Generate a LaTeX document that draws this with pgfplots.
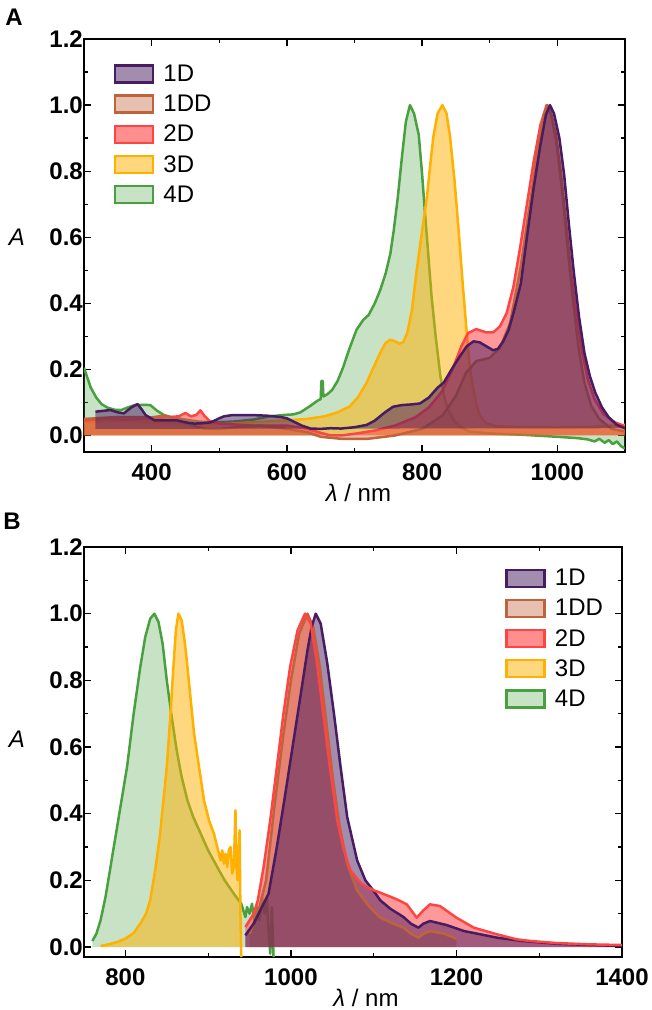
\documentclass[border=0pt]{standalone}
\usepackage{fontspec}
\setmainfont{Liberation Sans}
\usepackage{pgfplots}
\usepackage{pgfplotstable}
\pgfplotsset{compat=1.18}

\definecolor{c1D}{RGB}{72,28,96}
\definecolor{c1DD}{RGB}{192,98,58}
\definecolor{c2D}{RGB}{255,68,68}
\definecolor{c3D}{RGB}{255,176,0}
\definecolor{c4D}{RGB}{72,160,62}

% ---------------- Panel A data ----------------
\pgfplotstableread{
x y
300 0.205
305 0.175
310 0.145
318 0.115
326 0.095
334 0.085
345 0.078
355 0.077
365 0.085
375 0.092
385 0.093
398 0.092
408 0.075
418 0.062
430 0.055
450 0.048
470 0.042
490 0.040
520 0.042
550 0.048
575 0.058
595 0.062
610 0.064
620 0.070
635 0.090
645 0.105
650 0.110
651 0.165
653 0.165
654 0.118
660 0.125
667 0.138
675 0.165
683 0.205
692 0.26
703 0.32
713 0.35
721 0.365
730 0.40
738 0.44
746 0.49
753 0.55
758 0.62
764 0.72
770 0.84
776 0.95
782 1.0
788 0.975
795 0.91
800 0.79
804 0.68
809 0.55
814 0.42
820 0.30
827 0.18
833 0.115
839 0.075
847 0.045
856 0.026
870 0.012
900 0.006
950 0.002
1000 -0.004
1030 -0.008
1045 -0.012
1055 -0.018
1062 -0.010
1070 -0.022
1076 -0.014
1082 -0.026
1088 -0.018
1094 -0.032
1100 -0.040
}\Afour

\pgfplotstableread{
x y
300 0.040
350 0.044
400 0.040
450 0.036
500 0.034
550 0.040
600 0.046
630 0.050
656 0.058
675 0.070
693 0.088
705 0.115
718 0.16
728 0.205
738 0.25
746 0.28
753 0.29
760 0.285
766 0.278
772 0.282
778 0.31
785 0.38
792 0.50
800 0.62
807 0.72
812 0.82
817 0.91
823 0.975
830 1.0
836 0.975
841 0.91
848 0.77
854 0.62
860 0.46
866 0.31
870 0.22
874 0.16
880 0.095
886 0.058
895 0.037
910 0.028
950 0.025
1000 0.024
1050 0.026
1100 0.032
}\Athree

\pgfplotstableread{
x y
300 0.045
330 0.050
360 0.048
400 0.050
420 0.055
440 0.058
450 0.068
458 0.058
466 0.062
472 0.076
478 0.060
485 0.045
500 0.036
550 0.030
600 0.030
630 0.020
650 0.008
665 0.000
680 0.000
700 0.005
730 0.015
760 0.030
790 0.055
810 0.085
830 0.135
845 0.20
858 0.27
868 0.31
880 0.322
895 0.312
905 0.312
915 0.33
925 0.37
935 0.45
945 0.57
955 0.70
965 0.83
975 0.94
984 1.0
990 0.98
998 0.91
1005 0.80
1012 0.66
1020 0.50
1028 0.37
1036 0.26
1045 0.17
1055 0.11
1068 0.065
1085 0.040
1100 0.028
}\Atwo

\pgfplotstableread{
x y
300 0.050
350 0.056
400 0.055
420 0.060
440 0.045
460 0.030
480 0.020
500 0.020
530 0.026
560 0.030
600 0.020
630 0.010
650 -0.004
680 -0.010
720 -0.010
760 0.000
800 0.020
830 0.060
850 0.12
865 0.19
880 0.225
900 0.235
915 0.265
930 0.34
945 0.50
958 0.68
970 0.85
980 0.97
985 1.0
991 0.97
999 0.88
1007 0.74
1015 0.57
1023 0.41
1031 0.27
1040 0.16
1050 0.09
1062 0.05
1080 0.02
1100 0.012
}\AoneDD

% first row = baseline of the filled area
\pgfplotstableread{
x y
317 0.020
317 0.072
330 0.075
339 0.077
350 0.070
359 0.067
370 0.085
379 0.095
385 0.080
391 0.062
404 0.046
420 0.046
437 0.046
450 0.040
463 0.036
475 0.037
488 0.040
500 0.052
507 0.058
520 0.062
546 0.062
570 0.060
591 0.056
600 0.052
611 0.041
622 0.030
635 0.021
650 0.020
665 0.022
680 0.021
700 0.025
718 0.032
730 0.045
745 0.070
757 0.087
770 0.092
784 0.094
797 0.097
810 0.115
823 0.145
832 0.16
845 0.205
856 0.24
866 0.27
876 0.285
885 0.282
895 0.27
905 0.258
912 0.262
920 0.285
928 0.32
935 0.37
946 0.46
955 0.60
965 0.75
975 0.88
983 0.97
989 1.0
995 0.975
1003 0.90
1010 0.79
1017 0.64
1024 0.50
1032 0.36
1040 0.25
1048 0.18
1056 0.13
1066 0.085
1076 0.055
1088 0.032
1100 0.022
}\AoneD

% ---------------- Panel B data ----------------
\pgfplotstableread{
x y
760 0.018
765 0.04
770 0.08
776 0.15
782 0.24
790 0.36
796 0.45
802 0.54
810 0.70
818 0.84
824 0.93
830 0.985
835 1.0
840 0.975
845 0.91
850 0.80
856 0.69
862 0.59
868 0.51
875 0.44
882 0.39
891 0.34
900 0.29
911 0.24
920 0.20
931 0.16
940 0.13
945 0.09
947 0.12
950 0.10
953 0.13
956 0.07
959 0.12
962 0.08
965 0.15
968 0.10
971 0.15
973 0.05
975 -0.02
977 0.12
979 -0.03
}\Bfour

\pgfplotstableread{
x y
770 0.003
780 0.008
790 0.015
800 0.025
810 0.042
818 0.07
825 0.10
830 0.14
836 0.23
842 0.34
846 0.44
850 0.54
854 0.68
858 0.84
861 0.95
864 1.0
868 0.98
872 0.91
875 0.84
879 0.74
883 0.64
889 0.54
895 0.44
901 0.38
907 0.34
911 0.30
915 0.26
917 0.29
919 0.25
921 0.28
923 0.24
925 0.29
927 0.30
929 0.22
931 0.24
933 0.41
934 0.25
935.5 0.20
937 0.30
938 0.35
939 0.10
940 -0.03
}\Bthree

\pgfplotstableread{
x y
945 0.06
950 0.08
955 0.10
960 0.14
967 0.24
975 0.38
983 0.54
991 0.70
999 0.84
1008 0.95
1017 1.0
1024 0.97
1031 0.86
1039 0.70
1047 0.54
1056 0.38
1064 0.29
1072 0.23
1085 0.19
1100 0.17
1108 0.163
1128 0.143
1140 0.128
1152 0.088
1160 0.11
1168 0.128
1180 0.123
1200 0.088
1221 0.058
1249 0.038
1273 0.023
1290 0.018
1320 0.012
1360 0.008
1400 0.006
}\Btwo

\pgfplotstableread{
x y
950 0.04
960 0.10
970 0.20
980 0.42
990 0.62
1000 0.80
1010 0.94
1020 1.0
1027 0.96
1035 0.84
1043 0.67
1051 0.50
1059 0.36
1068 0.25
1080 0.17
1095 0.12
1108 0.088
1122 0.072
1136 0.058
1145 0.040
1154 0.028
1160 0.040
1168 0.048
1185 0.040
1200 0.025
}\BoneDD

\pgfplotstableread{
x y
945 0.035
955 0.07
965 0.12
973 0.16
983 0.30
992 0.44
1002 0.60
1012 0.76
1020 0.89
1025 0.96
1030 1.0
1036 0.97
1044 0.85
1052 0.70
1060 0.54
1068 0.39
1080 0.26
1090 0.20
1100 0.168
1108 0.14
1120 0.115
1136 0.09
1145 0.07
1154 0.058
1160 0.07
1168 0.078
1188 0.066
1209 0.048
1249 0.028
1280 0.018
1320 0.010
1360 0.006
1400 0.003
}\BoneD

\pgfplotsset{
  mylegimg/.style={legend image code/.code={%
    \draw[line width=2.5pt,##1] (0pt,-8.5pt) rectangle (38pt,8.5pt);}},
  myax/.style={
    scale only axis,
    ymin=-0.05, ymax=1.2,
    ytick={0,0.2,0.4,0.6,0.8,1.0,1.2},
    minor x tick num=1, minor y tick num=1,
    tick align=inside, tick pos=both,
    major tick length=7pt, minor tick length=4pt,
    every tick/.append style={black, line width=1.3pt},
    axis line style={line width=1.6pt},
    tick label style={font=\fontsize{24}{24}\selectfont\bfseries},
    /pgf/number format/assume math mode=true,
    y tick label style={/pgf/number format/fixed, /pgf/number format/fixed zerofill, /pgf/number format/precision=1, inner sep=1pt},
    x tick label style={/pgf/number format/1000 sep={}, inner sep=0pt, yshift=-12pt},
    ylabel={\textit{A}},
    xlabel={\textit{λ} / nm},
    legend style={draw=none, fill=none, font=\fontsize{24}{24}\selectfont, row sep=8pt, column sep=7pt, inner sep=0pt},
    legend cell align=left,
  },
  fillA/.style={draw=none, forget plot},
  lineA/.style={line width=2.5pt, line join=round, forget plot},
}

\newcommand{\mylegend}{%
\addlegendimage{mylegimg, draw=c1D, fill=c1D, fill opacity=0.5}
\addlegendentry{1D}
\addlegendimage{mylegimg, draw=c1DD, fill=c1DD, fill opacity=0.4}
\addlegendentry{1DD}
\addlegendimage{mylegimg, draw=c2D, fill=c2D, fill opacity=0.6}
\addlegendentry{2D}
\addlegendimage{mylegimg, draw=c3D, fill=c3D, fill opacity=0.5}
\addlegendentry{3D}
\addlegendimage{mylegimg, draw=c4D, fill=c4D, fill opacity=0.3}
\addlegendentry{4D}}

\begin{document}
\begin{tikzpicture}
\path[use as bounding box] (0,0) rectangle (652pt,-1010pt);

\begin{axis}[myax,
  at={(84pt,-39pt)}, anchor=north west,
  width=541pt, height=413pt,
  xmin=300, xmax=1100,
  xtick={400,600,800,1000},
  every axis x label/.style={at={(rel axis cs:0.5,0)}, anchor=center, yshift=-41pt, xshift=4pt, font=\fontsize{24}{24}\selectfont},
  every axis y label/.style={at={(rel axis cs:0,0.52)}, anchor=center, xshift=-67pt, font=\fontsize{24}{24}\selectfont},
  legend style={at={(rel axis cs:0.055,0.942)}, anchor=north west},
]
\mylegend

\addplot[fillA, fill=c4D, fill opacity=0.3] table {\Afour} \closedcycle;
\addplot[lineA, c4D] table {\Afour};
\addplot[fillA, fill=c3D, fill opacity=0.5] table {\Athree} \closedcycle;
\addplot[lineA, c3D] table {\Athree};
\addplot[fillA, fill=c2D, fill opacity=0.55] table {\Atwo} \closedcycle;
\addplot[lineA, c2D] table {\Atwo};
\addplot[fillA, fill=c1DD, fill opacity=0.4] table {\AoneDD} \closedcycle;
\addplot[lineA, c1DD] table {\AoneDD};
\addplot[fillA, fill=c1D, fill opacity=0.5] table {\AoneD};
\addplot[lineA, c1D, skip coords between index={0}{1}] table {\AoneD};
\end{axis}

\begin{axis}[myax,
  at={(84pt,-547pt)}, anchor=north west,
  width=538pt, height=410pt,
  xmin=750, xmax=1400,
  ymin=-0.03,
  xtick={800,1000,1200,1400},
  every axis x label/.style={at={(rel axis cs:0.5,0)}, anchor=center, yshift=-41pt, xshift=13pt, font=\fontsize{24}{24}\selectfont},
  every axis y label/.style={at={(rel axis cs:0,0.53)}, anchor=center, xshift=-67pt, font=\fontsize{24}{24}\selectfont},
  legend style={at={(rel axis cs:0.783,0.951)}, anchor=north west},
]
\mylegend

\addplot[fillA, fill=c4D, fill opacity=0.3] table {\Bfour} \closedcycle;
\addplot[lineA, c4D] table {\Bfour};
\addplot[fillA, fill=c3D, fill opacity=0.5] table {\Bthree} \closedcycle;
\addplot[lineA, c3D] table {\Bthree};
\addplot[fillA, fill=c2D, fill opacity=0.55] table {\Btwo} \closedcycle;
\addplot[fillA, fill=c1DD, fill opacity=0.4] table {\BoneDD} \closedcycle;
\addplot[fillA, fill=c1D, fill opacity=0.5] table {\BoneD} \closedcycle;
\addplot[lineA, c1DD] table {\BoneDD};
\addplot[lineA, c1D] table {\BoneD};
\addplot[lineA, c2D] table {\Btwo};
\end{axis}

\node[font=\fontsize{24}{24}\selectfont\bfseries] at (14pt,-17pt) {A};
\node[font=\fontsize{24}{24}\selectfont\bfseries] at (12pt,-521pt) {B};
\end{tikzpicture}
\end{document}
